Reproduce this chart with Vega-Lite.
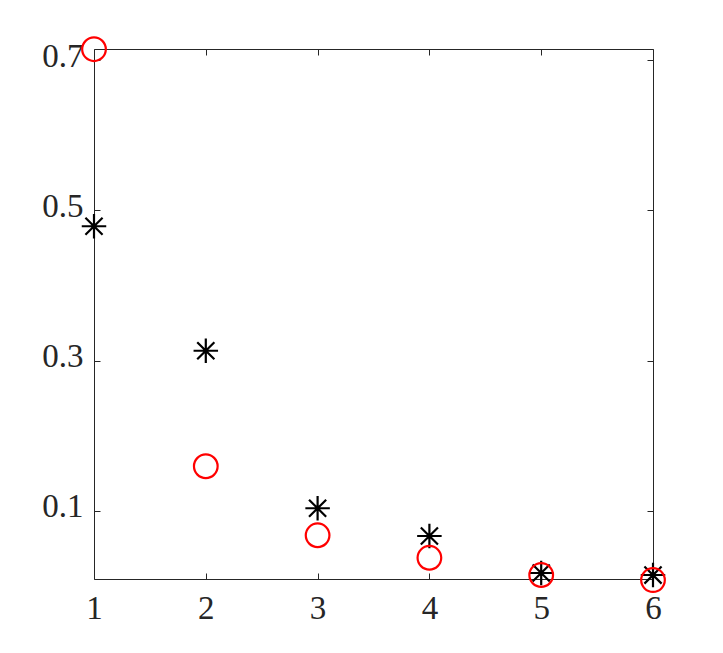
{
  "$schema": "https://vega.github.io/schema/vega-lite/v6.json",
  "width": 559,
  "height": 530,
  "autosize": "none",
  "padding": {"left": 94, "top": 49, "right": 70, "bottom": 74},
  "background": "white",
  "config": {
    "view": {"stroke": null},
    "axis": {
      "labelFont": "Liberation Serif",
      "labelFontSize": 33,
      "labelColor": "#262626",
      "domainColor": "#262626",
      "tickColor": "#262626",
      "domainWidth": 1,
      "tickWidth": 1,
      "grid": false,
      "title": null,
      "labelFlush": false,
      "labelOverlap": false
    }
  },
  "data": {"values": [
    {"n": 1, "a": 0.479, "b": 0.715},
    {"n": 2, "a": 0.313, "b": 0.159},
    {"n": 3, "a": 0.103, "b": 0.067},
    {"n": 4, "a": 0.066, "b": 0.037},
    {"n": 5, "a": 0.0167, "b": 0.014},
    {"n": 6, "a": 0.014, "b": 0.0073}
  ]},
  "resolve": {"axis": {"x": "independent", "y": "independent"}},
  "layer": [
    {
      "mark": {"type": "point", "shape": "M-1,0L1,0M0,-1L0,1M-0.7,-0.7L0.7,0.7M-0.7,0.7L0.7,-0.7", "size": 600, "stroke": "black", "strokeWidth": 2.2, "filled": false, "clip": false, "opacity": 1},
      "encoding": {
        "x": {"field": "n", "type": "quantitative", "scale": {"domain": [1, 6], "nice": false, "zero": false},
          "axis": {"orient": "bottom", "values": [1, 2, 3, 4, 5, 6], "tickSize": -6, "labelPadding": 19, "format": "d", "labelFont": "Liberation Serif", "labelFontSize": 33, "labelFlush": false, "labelBaseline": "top"}},
        "y": {"field": "a", "type": "quantitative", "scale": {"domain": [0.0087, 0.7153], "nice": false, "zero": false},
          "axis": {"orient": "left", "values": [0.1, 0.3, 0.5, 0.7], "tickSize": -6, "labelPadding": 17, "format": ".1f", "labelFont": "Liberation Serif", "labelFontSize": 33, "labelFlush": false, "labelOffset": -4}}
      }
    },
    {
      "mark": {"type": "point", "shape": "circle", "size": 560, "stroke": "#ff0000", "strokeWidth": 2.2, "filled": false, "clip": false, "opacity": 1},
      "encoding": {
        "x": {"field": "n", "type": "quantitative", "scale": {"domain": [1, 6], "nice": false, "zero": false},
          "axis": {"orient": "top", "values": [1, 2, 3, 4, 5, 6], "tickSize": -6, "labels": false}},
        "y": {"field": "b", "type": "quantitative", "scale": {"domain": [0.0087, 0.7153], "nice": false, "zero": false},
          "axis": {"orient": "right", "values": [0.1, 0.3, 0.5, 0.7], "tickSize": -6, "labels": false}}
      }
    }
  ]
}
